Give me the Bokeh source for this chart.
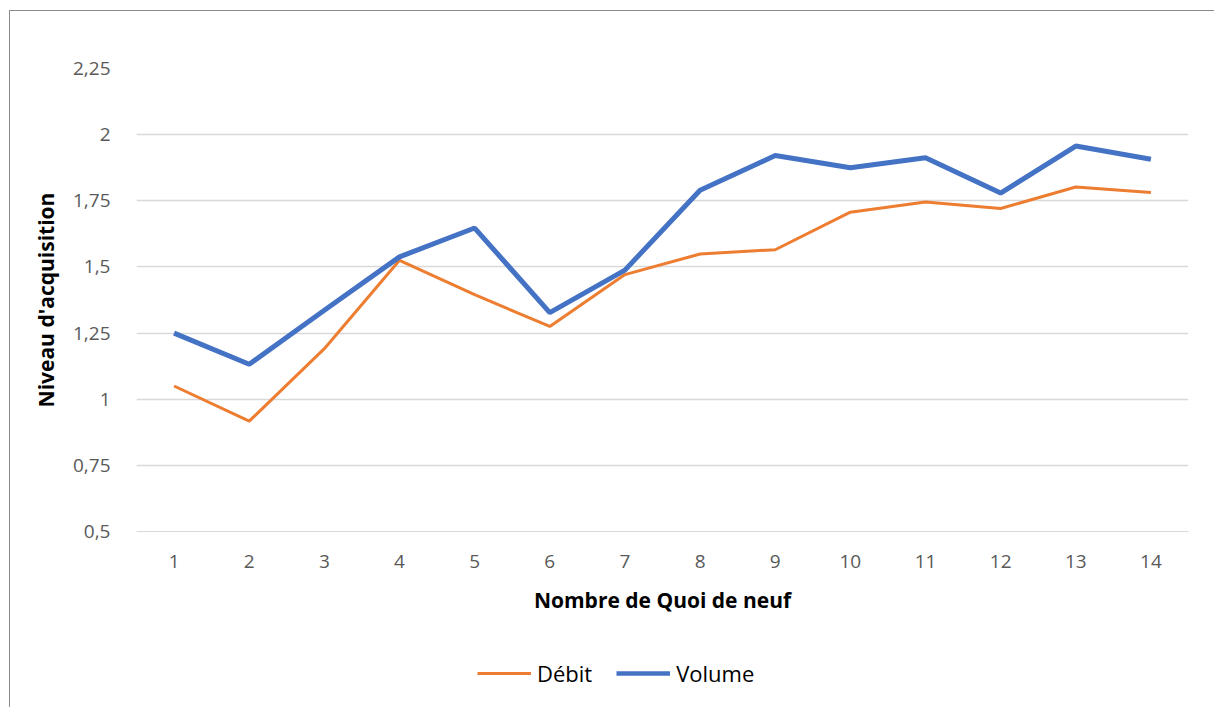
from bokeh.plotting import figure
from bokeh.layouts import column
from bokeh.models import ColumnDataSource, FactorRange, Range1d, Legend, LegendItem, FixedTicker
from bokeh.embed import file_html
from bokeh.resources import INLINE

categories = [str(i) for i in range(1, 15)]
debit = [1.05, 0.917, 1.191, 1.525, 1.395, 1.275, 1.471, 1.549, 1.565, 1.707, 1.745, 1.721, 1.802, 1.781]
volume = [1.25, 1.132, 1.336, 1.538, 1.647, 1.327, 1.488, 1.79, 1.921, 1.875, 1.913, 1.779, 1.957, 1.907]
y_ticks = [0.5, 0.75, 1.0, 1.25, 1.5, 1.75, 2.0, 2.25]
y_tick_labels = ["0,5", "0,75", "1", "1,25", "1,5", "1,75", "2", "2,25"]
series_names = ["Débit", "Volume"]
series_colors = ["#ED7D31", "#4472C4"]
series_widths = [3, 5]

FONT = "Open Sans"

src = ColumnDataSource(dict(x=categories, debit=debit, volume=volume))

p = figure(width=1205, height=630, x_range=FactorRange(*categories, range_padding=0),
           y_range=Range1d(0.5, 2.25), output_backend="svg", toolbar_location=None,
           min_border_left=126, min_border_right=27, min_border_top=57, min_border_bottom=110)
p.outline_line_color = None
p.background_fill_color = "white"
p.border_fill_color = "white"

p.line("x", "debit", source=src, line_color=series_colors[0], line_width=series_widths[0])
p.line("x", "volume", source=src, line_color=series_colors[1], line_width=series_widths[1])

# y axis
p.yaxis.ticker = FixedTicker(ticks=y_ticks)
p.yaxis.major_label_overrides = {t: l for t, l in zip(y_ticks, y_tick_labels)}
p.yaxis.axis_line_color = None
p.yaxis.major_tick_line_color = None
p.yaxis.minor_tick_line_color = None
p.yaxis.major_label_standoff = 20
p.yaxis.major_label_text_font = FONT
p.yaxis.major_label_text_font_size = "19px"
p.yaxis.major_label_text_color = "#595959"
p.yaxis.axis_label = "Niveau d'acquisition"
p.yaxis.axis_label_text_font = FONT
p.yaxis.axis_label_text_font_style = "bold"
p.yaxis.axis_label_text_font_size = "21px"
p.yaxis.axis_label_text_color = "black"
p.yaxis.axis_label_standoff = 10

# x axis
p.xaxis.axis_line_color = "#d9d9d9"
p.xaxis.major_tick_line_color = None
p.xaxis.minor_tick_line_color = None
p.xaxis.major_label_standoff = 17
p.xaxis.major_label_text_font = FONT
p.xaxis.major_label_text_font_size = "19px"
p.xaxis.major_label_text_color = "#595959"
p.xaxis.axis_label = "Nombre de Quoi de neuf"
p.xaxis.axis_label_text_font = FONT
p.xaxis.axis_label_text_font_style = "bold"
p.xaxis.axis_label_text_font_size = "21px"
p.xaxis.axis_label_text_color = "black"
p.xaxis.axis_label_standoff = 15

p.xgrid.grid_line_color = None
p.ygrid.grid_line_color = "#d9d9d9"
p.ygrid.grid_line_width = 1.3

# legend strip (its frame is aligned with the main frame by the column layout)
lg = figure(width=1205, height=67, x_range=Range1d(0, 1), y_range=Range1d(0, 1),
            output_backend="svg", toolbar_location=None,
            x_axis_location=None, y_axis_location=None,
            min_border=0)
lg.outline_line_color = None
lg.grid.grid_line_color = None
lg.border_fill_color = "white"
lg.background_fill_color = "white"
items = []
for name, color, w in zip(series_names, series_colors, series_widths):
    # proxy renderer kept outside the visible range; only its legend glyph shows
    r = lg.line(x=[0, 1], y=[5, 5], line_color=color, line_width=w - 0.5 if w > 3 else w)
    items.append(LegendItem(label=name, renderers=[r]))
legend = Legend(items=items, orientation="horizontal", location=(341, 20),
                label_text_font=FONT, label_text_font_size="22px", label_text_color="black",
                glyph_width=54, glyph_height=30, label_height=30, label_standoff=6,
                spacing=24, padding=0, margin=0,
                border_line_color=None, background_fill_alpha=0)
lg.add_layout(legend, "center")

layout = column(p, lg, spacing=0)
layout.styles = {"border-left": "1px solid #8c8c8c", "border-top": "1px solid #8c8c8c",
                 "margin-left": "9px", "margin-top": "10px"}

open("out.html", "w").write(file_html(layout, INLINE))
